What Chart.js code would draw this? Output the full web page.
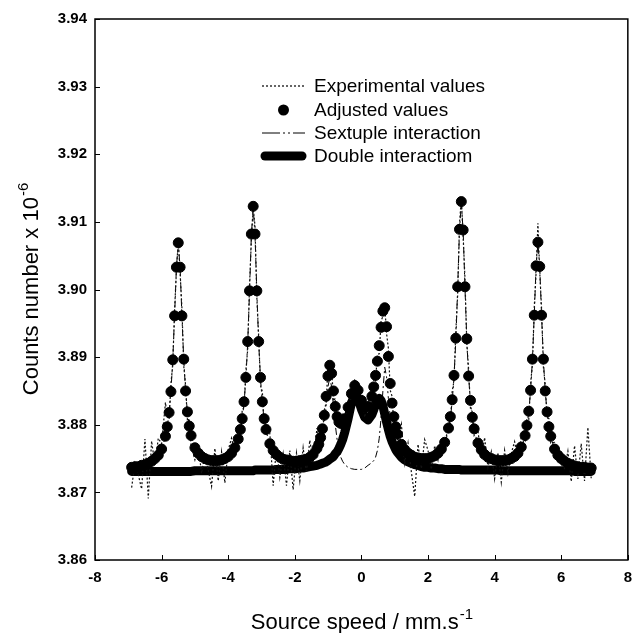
<!DOCTYPE html>
<html>
<head>
<meta charset="utf-8">
<script src="https://cdn.jsdelivr.net/npm/chart.js@4.4.1/dist/chart.umd.min.js"></script>
<style>
  html, body { margin: 0; padding: 0; background: #fff; }
  #wrap { position: relative; width: 641px; height: 633px; }
</style>
</head>
<body>
<div id="wrap"><canvas id="chart1"></canvas></div>
<script>
// source speed (mm/s) of each channel
const speed = [
  -6.9, -6.8, -6.7, -6.6, -6.5, -6.4, -6.3, -6.2, -6.1, -6.0,
  -5.885, -5.83, -5.775, -5.72, -5.665, -5.61, -5.555, -5.5, -5.445, -5.39, -5.335, -5.28, -5.225, -5.17, -5.115,
  -5.0, -4.9, -4.8, -4.7, -4.6, -4.5, -4.4, -4.3, -4.2, -4.1, -4.0, -3.9, -3.8, -3.7,
  -3.635, -3.58, -3.525, -3.47, -3.415, -3.36, -3.305, -3.25, -3.195, -3.14, -3.085, -3.03, -2.975, -2.92, -2.865,
  -2.75, -2.65, -2.55, -2.45, -2.35, -2.25, -2.15, -2.05, -1.95, -1.85, -1.75, -1.65, -1.55, -1.45,
  -1.335, -1.28, -1.225, -1.17, -1.115, -1.06, -1.005, -0.95, -0.895, -0.84, -0.785, -0.73, -0.675, -0.62, -0.565,
  -0.5, -0.4, -0.3, -0.2, -0.1, 0.0, 0.1, 0.2,
  0.315, 0.37, 0.425, 0.48, 0.535, 0.59, 0.645, 0.7, 0.755, 0.81, 0.865, 0.92, 0.975, 1.03, 1.085,
  1.2, 1.3, 1.4, 1.5, 1.6, 1.7, 1.8, 1.9, 2.0, 2.1, 2.2, 2.3, 2.4, 2.5,
  2.615, 2.67, 2.725, 2.78, 2.835, 2.89, 2.945, 3.0, 3.055, 3.11, 3.165, 3.22, 3.275, 3.33, 3.385,
  3.5, 3.6, 3.7, 3.8, 3.9, 4.0, 4.1, 4.2, 4.3, 4.4, 4.5, 4.6, 4.7, 4.8,
  4.915, 4.97, 5.025, 5.08, 5.135, 5.19, 5.245, 5.3, 5.355, 5.41, 5.465, 5.52, 5.575, 5.63, 5.685,
  5.8, 5.9, 6.0, 6.1, 6.2, 6.3, 6.4, 6.5, 6.6, 6.7, 6.8, 6.9
];

// counts number x 10^-6
const experimental = [
  3.8707, 3.8743, 3.8726, 3.8705, 3.8779, 3.8691, 3.8776, 3.8740, 3.8780, 3.8772,
  3.8833, 3.8812, 3.8808, 3.8861, 3.8888, 3.8971, 3.9027, 3.9072, 3.9025, 3.8973, 3.8887, 3.8858, 3.8807, 3.8808, 3.8769,
  3.8748, 3.8768, 3.8728, 3.8755, 3.8733, 3.8709, 3.8765, 3.8717, 3.8760, 3.8714, 3.8763, 3.8780, 3.8758, 3.8797,
  3.8783, 3.8821, 3.8826, 3.8880, 3.8911, 3.9006, 3.9072, 3.9121, 3.9094, 3.8988, 3.8931, 3.8858, 3.8849, 3.8801, 3.8813,
  3.8787, 3.8710, 3.8766, 3.8722, 3.8757, 3.8710, 3.8762, 3.8704, 3.8758, 3.8717, 3.8766, 3.8729, 3.8777, 3.8744,
  3.8795, 3.8756, 3.8791, 3.8782, 3.8822, 3.8832, 3.8884, 3.8882, 3.8886, 3.8835, 3.8839, 3.8802, 3.8819, 3.8794, 3.8813,
  3.8797, 3.8836, 3.8838, 3.8868, 3.8846, 3.8848, 3.8811, 3.8837,
  3.8832, 3.8868, 3.8865, 3.8904, 3.8905, 3.8954, 3.8960, 3.8977, 3.8935, 3.8913, 3.8851, 3.8842, 3.8800, 3.8812, 3.8776,
  3.8801, 3.8743, 3.8773, 3.8730, 3.8694, 3.8771, 3.8735, 3.8778, 3.8762, 3.8734, 3.8769, 3.8748, 3.8776, 3.8766,
  3.8805, 3.8802, 3.8849, 3.8865, 3.8938, 3.8992, 3.9097, 3.9135, 3.9078, 3.9016, 3.8919, 3.8882, 3.8824, 3.8819, 3.8784,
  3.8791, 3.8751, 3.8781, 3.8737, 3.8760, 3.8720, 3.8759, 3.8715, 3.8762, 3.8728, 3.8758, 3.8775, 3.8748, 3.8782,
  3.8776, 3.8809, 3.8808, 3.8861, 3.8889, 3.8974, 3.9025, 3.9098, 3.9026, 3.8972, 3.8885, 3.8860, 3.8811, 3.8809, 3.8773,
  3.8774, 3.8747, 3.8762, 3.8734, 3.8761, 3.8716, 3.8769, 3.8720, 3.8772, 3.8717, 3.8796, 3.8721
];

const adjusted = [
  3.8737, 3.8738, 3.8738, 3.8740, 3.8741, 3.8743, 3.8746, 3.8750, 3.8755, 3.8764,
  3.8783, 3.8797, 3.8818, 3.8849, 3.8896, 3.8961, 3.9033, 3.9069, 3.9033, 3.8961, 3.8897, 3.8850, 3.8819, 3.8798, 3.8784,
  3.8766, 3.8758, 3.8753, 3.8750, 3.8748, 3.8747, 3.8747, 3.8747, 3.8748, 3.8750, 3.8753, 3.8758, 3.8766, 3.8779,
  3.8793, 3.8809, 3.8834, 3.8870, 3.8923, 3.8998, 3.9082, 3.9123, 3.9082, 3.8998, 3.8923, 3.8870, 3.8834, 3.8809, 3.8793,
  3.8772, 3.8762, 3.8756, 3.8752, 3.8749, 3.8748, 3.8747, 3.8746, 3.8746, 3.8747, 3.8748, 3.8749, 3.8752, 3.8756,
  3.8765, 3.8771, 3.8781, 3.8794, 3.8814, 3.8842, 3.8872, 3.8888, 3.8876, 3.8850, 3.8827, 3.8812, 3.8804, 3.8802, 3.8803,
  3.8809, 3.8826, 3.8846, 3.8858, 3.8851, 3.8836, 3.8826, 3.8827,
  3.8842, 3.8856, 3.8873, 3.8894, 3.8917, 3.8944, 3.8968, 3.8973, 3.8945, 3.8901, 3.8861, 3.8832, 3.8812, 3.8797, 3.8786,
  3.8771, 3.8763, 3.8758, 3.8755, 3.8752, 3.8751, 3.8750, 3.8750, 3.8750, 3.8752, 3.8754, 3.8758, 3.8764, 3.8774,
  3.8795, 3.8812, 3.8837, 3.8873, 3.8928, 3.9004, 3.9089, 3.9130, 3.9088, 3.9004, 3.8927, 3.8872, 3.8836, 3.8811, 3.8794,
  3.8773, 3.8763, 3.8756, 3.8752, 3.8750, 3.8748, 3.8747, 3.8747, 3.8747, 3.8748, 3.8750, 3.8753, 3.8758, 3.8767,
  3.8784, 3.8799, 3.8820, 3.8851, 3.8897, 3.8962, 3.9035, 3.9070, 3.9034, 3.8962, 3.8897, 3.8850, 3.8819, 3.8797, 3.8783,
  3.8764, 3.8755, 3.8750, 3.8746, 3.8743, 3.8741, 3.8739, 3.8738, 3.8737, 3.8737, 3.8736, 3.8736
];

const sextuple = [
  3.8736, 3.8737, 3.8738, 3.8739, 3.8741, 3.8743, 3.8745, 3.8749, 3.8755, 3.8764,
  3.8782, 3.8797, 3.8818, 3.8849, 3.8896, 3.8961, 3.9033, 3.9068, 3.9033, 3.8961, 3.8896, 3.8850, 3.8819, 3.8798, 3.8783,
  3.8765, 3.8757, 3.8752, 3.8749, 3.8747, 3.8746, 3.8746, 3.8746, 3.8747, 3.8749, 3.8752, 3.8757, 3.8765, 3.8778,
  3.8792, 3.8808, 3.8832, 3.8868, 3.8921, 3.8996, 3.9080, 3.9121, 3.9080, 3.8996, 3.8921, 3.8868, 3.8832, 3.8807, 3.8791,
  3.8770, 3.8760, 3.8753, 3.8749, 3.8746, 3.8744, 3.8743, 3.8742, 3.8742, 3.8742, 3.8742, 3.8744, 3.8745, 3.8749,
  3.8756, 3.8761, 3.8770, 3.8782, 3.8801, 3.8828, 3.8856, 3.8870, 3.8856, 3.8828, 3.8800, 3.8778, 3.8763, 3.8752, 3.8746,
  3.8741, 3.8737, 3.8735, 3.8734, 3.8734, 3.8734, 3.8736, 3.8740,
  3.8744, 3.8747, 3.8752, 3.8762, 3.8780, 3.8810, 3.8850, 3.8885, 3.8871, 3.8839, 3.8812, 3.8789, 3.8774, 3.8765, 3.8758,
  3.8750, 3.8747, 3.8744, 3.8743, 3.8742, 3.8742, 3.8743, 3.8744, 3.8745, 3.8747, 3.8750, 3.8754, 3.8760, 3.8771,
  3.8792, 3.8809, 3.8834, 3.8870, 3.8925, 3.9002, 3.9087, 3.9128, 3.9086, 3.9002, 3.8925, 3.8870, 3.8834, 3.8809, 3.8792,
  3.8771, 3.8761, 3.8755, 3.8751, 3.8749, 3.8747, 3.8746, 3.8746, 3.8746, 3.8747, 3.8749, 3.8752, 3.8757, 3.8766,
  3.8783, 3.8798, 3.8819, 3.8850, 3.8896, 3.8961, 3.9034, 3.9069, 3.9033, 3.8961, 3.8896, 3.8849, 3.8818, 3.8796, 3.8782,
  3.8764, 3.8754, 3.8749, 3.8746, 3.8743, 3.8740, 3.8739, 3.8738, 3.8737, 3.8736, 3.8736, 3.8735
];

const doubleFit = [
  3.8731, 3.8731, 3.8731, 3.8731, 3.8731, 3.8731, 3.8731, 3.8731, 3.8731, 3.8731,
  3.8731, 3.8731, 3.8731, 3.8731, 3.8731, 3.8731, 3.8731, 3.8731, 3.8731, 3.8731, 3.8731, 3.8731, 3.8731, 3.8731, 3.8731,
  3.8732, 3.8732, 3.8732, 3.8732, 3.8732, 3.8732, 3.8732, 3.8732, 3.8732, 3.8732, 3.8732, 3.8732, 3.8732, 3.8732,
  3.8732, 3.8732, 3.8732, 3.8732, 3.8732, 3.8732, 3.8732, 3.8732, 3.8733, 3.8733, 3.8733, 3.8733, 3.8733, 3.8733, 3.8733,
  3.8733, 3.8733, 3.8734, 3.8734, 3.8734, 3.8734, 3.8735, 3.8735, 3.8735, 3.8736, 3.8736, 3.8737, 3.8738, 3.8739,
  3.8740, 3.8741, 3.8742, 3.8743, 3.8744, 3.8745, 3.8747, 3.8749, 3.8751, 3.8753, 3.8757, 3.8760, 3.8765, 3.8771, 3.8778,
  3.8789, 3.8809, 3.8832, 3.8845, 3.8838, 3.8823, 3.8811, 3.8807,
  3.8815, 3.8822, 3.8830, 3.8837, 3.8839, 3.8836, 3.8828, 3.8816, 3.8804, 3.8793, 3.8783, 3.8775, 3.8769, 3.8763, 3.8759,
  3.8752, 3.8748, 3.8745, 3.8743, 3.8741, 3.8740, 3.8738, 3.8737, 3.8737, 3.8736, 3.8736, 3.8735, 3.8735, 3.8734,
  3.8734, 3.8734, 3.8734, 3.8734, 3.8734, 3.8734, 3.8734, 3.8733, 3.8733, 3.8733, 3.8733, 3.8733, 3.8733, 3.8733, 3.8733,
  3.8733, 3.8733, 3.8733, 3.8733, 3.8733, 3.8733, 3.8733, 3.8732, 3.8732, 3.8732, 3.8732, 3.8732, 3.8732, 3.8732,
  3.8732, 3.8732, 3.8732, 3.8732, 3.8732, 3.8732, 3.8732, 3.8732, 3.8732, 3.8732, 3.8732, 3.8732, 3.8732, 3.8732, 3.8732,
  3.8732, 3.8732, 3.8732, 3.8732, 3.8732, 3.8732, 3.8731, 3.8731, 3.8731, 3.8731, 3.8731, 3.8731
];

const seriesNames = ["Experimental values", "Adjusted values", "Sextuple interaction", "Double interactiom"];
const xTicks = [-8, -6, -4, -2, 0, 2, 4, 6, 8];
const xTickLabels = ["-8", "-6", "-4", "-2", "0", "2", "4", "6", "8"];
const yTicks = [3.86, 3.87, 3.88, 3.89, 3.90, 3.91, 3.92, 3.93, 3.94];
const yTickLabels = ["3.86", "3.87", "3.88", "3.89", "3.90", "3.91", "3.92", "3.93", "3.94"];

const FONT = '"Liberation Sans", Arial, Helvetica, sans-serif';

function toPoints(ys) {
  return speed.map((x, i) => ({ x: x, y: ys[i] }));
}

// text with a small raised part, e.g. 10^-6
function drawSup(ctx, main, sup, cx, y, size) {
  ctx.font = size + "px " + FONT;
  const w1 = ctx.measureText(main).width;
  const supSize = Math.round(size * 0.7);
  ctx.font = supSize + "px " + FONT;
  const w2 = ctx.measureText(sup).width;
  const x0 = cx - (w1 + w2) / 2;
  ctx.font = size + "px " + FONT;
  ctx.fillText(main, x0, y);
  ctx.font = supSize + "px " + FONT;
  ctx.fillText(sup, x0 + w1 + 1, y - size * 0.45);
}

const framePlugin = {
  id: "frame",
  afterDatasetsDraw(chart) {
    const { ctx, chartArea: a, scales } = chart;
    ctx.save();
    ctx.strokeStyle = "#000";
    ctx.lineWidth = 1.5;
    ctx.strokeRect(a.left, a.top, a.right - a.left, a.bottom - a.top);
    ctx.lineWidth = 1;
    ctx.beginPath();
    xTicks.forEach(v => {
      const px = Math.round(scales.x.getPixelForValue(v)) + 0.5;
      ctx.moveTo(px, a.bottom);
      ctx.lineTo(px, a.bottom - 5);
    });
    yTicks.forEach(v => {
      const py = Math.round(scales.y.getPixelForValue(v)) + 0.5;
      ctx.moveTo(a.left, py);
      ctx.lineTo(a.left + 5, py);
    });
    ctx.stroke();
    ctx.restore();
  },
  afterDraw(chart) {
    const { ctx, chartArea: a } = chart;
    ctx.save();
    ctx.fillStyle = "#000";
    ctx.strokeStyle = "#000";
    ctx.textAlign = "left";
    ctx.textBaseline = "alphabetic";

    // axis titles
    drawSup(ctx, "Source speed / mm.s", "-1", (a.left + a.right) / 2, 629, 22);
    ctx.save();
    ctx.translate(38, (a.top + a.bottom) / 2);
    ctx.rotate(-Math.PI / 2);
    drawSup(ctx, "Counts number x 10", "-6", 0, 0, 22);
    ctx.restore();

    // legend inside the plot
    const x0 = 262, x1 = 305, tx = 314;
    const rows = [86, 110, 133, 156];
    ctx.lineWidth = 1.2;
    ctx.setLineDash([2, 2]);
    ctx.beginPath(); ctx.moveTo(x0, rows[0]); ctx.lineTo(x1, rows[0]); ctx.stroke();
    ctx.setLineDash([]);
    ctx.beginPath(); ctx.arc((x0 + x1) / 2, rows[1], 5.5, 0, Math.PI * 2); ctx.fill();
    ctx.lineWidth = 1;
    ctx.setLineDash([18, 3, 2, 3, 2, 3]);
    ctx.beginPath(); ctx.moveTo(x0, rows[2]); ctx.lineTo(x1, rows[2]); ctx.stroke();
    ctx.setLineDash([]);
    ctx.lineWidth = 9;
    ctx.lineCap = "round";
    ctx.beginPath(); ctx.moveTo(x0 + 3, rows[3]); ctx.lineTo(x1 - 3, rows[3]); ctx.stroke();

    ctx.font = "19px " + FONT;
    ctx.textBaseline = "middle";
    seriesNames.forEach((name, i) => ctx.fillText(name, tx, rows[i] + 1));
    ctx.restore();
  }
};

const ctx = document.getElementById("chart1").getContext("2d");
new Chart(ctx, {
  type: "scatter",
  data: {
    datasets: [
      {
        label: seriesNames[1],
        data: toPoints(adjusted),
        showLine: false,
        pointRadius: 5,
        pointBackgroundColor: "#000",
        pointBorderColor: "#000",
        pointBorderWidth: 1,
        order: 0
      },
      {
        label: seriesNames[0],
        data: toPoints(experimental),
        showLine: true,
        borderColor: "#111",
        borderWidth: 1.2,
        borderDash: [2, 2],
        pointRadius: 0,
        order: 1
      },
      {
        label: seriesNames[2],
        data: toPoints(sextuple),
        showLine: true,
        borderColor: "#000",
        borderWidth: 1,
        borderDash: [7, 3, 2, 3],
        pointRadius: 0,
        order: 2
      },
      {
        label: seriesNames[3],
        data: toPoints(doubleFit),
        showLine: true,
        borderColor: "#000",
        borderWidth: 9,
        borderCapStyle: "round",
        borderJoinStyle: "round",
        pointRadius: 0,
        order: 3
      }
    ]
  },
  options: {
    responsive: true,
    maintainAspectRatio: false,
    animation: false,
    events: [],
    layout: { padding: { top: 19, right: 5, left: 0, bottom: 0 } },
    plugins: {
      legend: { display: false },
      tooltip: { enabled: false }
    },
    scales: {
      x: {
        type: "linear",
        min: -8,
        max: 8,
        afterFit: s => { s.height = 73; },
        afterBuildTicks: s => { s.ticks = xTicks.map(v => ({ value: v })); },
        grid: { display: false, drawTicks: false },
        border: { display: false },
        ticks: {
          autoSkip: false,
          maxRotation: 0,
          padding: 9,
          color: "#000",
          font: { family: FONT, size: 15, weight: "bold" },
          callback: (v, i) => xTickLabels[i]
        }
      },
      y: {
        type: "linear",
        min: 3.86,
        max: 3.94,
        afterFit: s => { s.width = 95; },
        afterBuildTicks: s => { s.ticks = yTicks.map(v => ({ value: v })); },
        grid: { display: false, drawTicks: false },
        border: { display: false },
        ticks: {
          autoSkip: false,
          padding: 8,
          color: "#000",
          font: { family: FONT, size: 15, weight: "bold" },
          callback: (v, i) => yTickLabels[i]
        }
      }
    }
  },
  plugins: [framePlugin]
});
</script>
</body>
</html>
